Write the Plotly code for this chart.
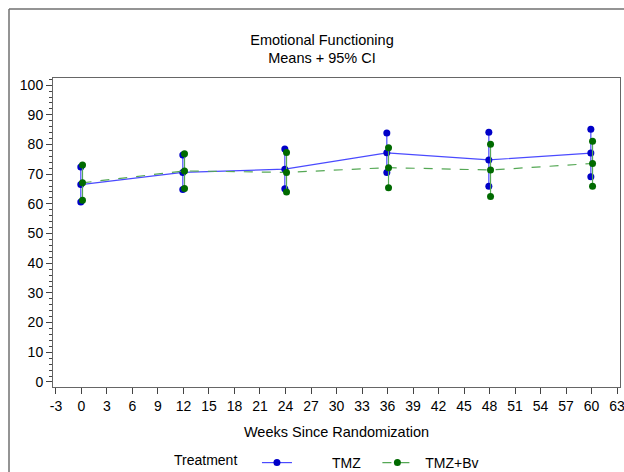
import plotly.graph_objects as go

weeks = [0, 12, 24, 36, 48, 60]
tmz_mean = [66.5, 70.6, 71.7, 77.2, 74.8, 77.1]
tmz_lower = [60.6, 64.8, 65.1, 70.6, 65.9, 69.1]
tmz_upper = [72.4, 76.5, 78.5, 83.9, 84.1, 85.1]
bv_mean = [67.1, 71.1, 70.6, 72.2, 71.4, 73.6]
bv_lower = [61.2, 65.2, 64.0, 65.4, 62.5, 65.9]
bv_upper = [73.1, 76.9, 77.3, 78.9, 80.1, 81.1]

x_ticks = list(range(-3, 64, 3))
x_ticklabels = [str(v) for v in x_ticks]
y_ticks = list(range(0, 101, 10))

FONT = "Liberation Sans, Arial, sans-serif"
BLUE_M = "#0000c8"
BLUE_L = "#4a4aff"
GREEN_M = "#006a00"
GREEN_L = "#55a855"
NBSP = "\u00a0"

W, H = 624, 472
ML, MR, MT, MB = 53, 4, 78, 85
PW, PH = W - ML - MR, H - MT - MB


def ci_xy(xs, lo, hi):
    xx, yy = [], []
    for x, a, b in zip(xs, lo, hi):
        xx += [x, x, None]
        yy += [a, b, None]
    return xx, yy


fig = go.Figure()
series = [
    (NBSP * 9 + "TMZ" + NBSP * 3, tmz_mean, tmz_lower, tmz_upper, -0.08, BLUE_M, BLUE_L, "solid"),
    (NBSP * 2 + "TMZ+Bv", bv_mean, bv_lower, bv_upper, 0.12, GREEN_M, GREEN_L, "dash"),
]
for label, m, lo, hi, off, mc, lc, dash in series:
    xs = [w + off for w in weeks]
    cx, cy = ci_xy(xs, lo, hi)
    fig.add_trace(go.Scatter(x=cx, y=cy, mode="lines+markers", showlegend=False,
                             line=dict(color=lc, width=1.2),
                             marker=dict(color=mc, size=7), hoverinfo="skip"))
    fig.add_trace(go.Scatter(x=xs, y=m, mode="lines+markers", name=label,
                             line=dict(color=lc, width=1.2, dash=dash),
                             marker=dict(color=mc, size=7)))

# outer frame of the original image (only its top and left edges are inside the crop)
fx0 = (9 - ML) / PW
fy1 = 1 + (MT - 9) / PH
frame_style = dict(color="#707070", width=1.5)

fig.update_layout(
    width=W, height=H,
    margin=dict(l=ML, r=MR, t=MT, b=MB, autoexpand=False),
    paper_bgcolor="white", plot_bgcolor="white",
    font=dict(family=FONT, size=14, color="black"),
    title=dict(text="Emotional Functioning<br>Means + 95% CI",
               x=322 / W, xanchor="center", xref="container",
               y=1 - 44.5 / H, yanchor="middle", yref="container",
               font=dict(family=FONT, size=14.5, color="black")),
    showlegend=True,
    legend=dict(orientation="h", xref="container", x=172 / W, xanchor="left",
                yref="container", y=1 - 463 / H, yanchor="middle",
                title=dict(text="Treatment" + NBSP * 3, side="left", font=dict(size=14)),
                font=dict(size=14), bgcolor="rgba(0,0,0,0)"),
    shapes=[
        dict(type="line", xref="paper", yref="paper", x0=fx0, x1=1.2, y0=fy1, y1=fy1,
             line=frame_style, layer="below"),
        dict(type="line", xref="paper", yref="paper", x0=fx0, x1=fx0, y0=fy1, y1=-0.5,
             line=frame_style, layer="below"),
    ],
)

fig.update_xaxes(range=[-3.35, 63.35], tickvals=x_ticks, ticktext=x_ticklabels,
                 ticks="outside", ticklen=6, ticklabeloverflow="allow", automargin=False,
                 tickcolor="#444", showline=True, linecolor="#666", linewidth=1,
                 mirror=True, showgrid=False, zeroline=False,
                 tickfont=dict(size=14),
                 title=dict(text="Weeks Since Randomization", font=dict(size=14.5), standoff=14))
fig.update_yaxes(range=[-1.7, 102.4], tickvals=y_ticks, ticks="outside", ticklen=6,
                 automargin=False,
                 tickcolor="#444", showline=True, linecolor="#666", linewidth=1,
                 mirror=True, showgrid=False, zeroline=False,
                 tickfont=dict(size=14),
                 minor=dict(dtick=2, ticks="outside", ticklen=3, tickcolor="#444"))

fig.write_html("out.html", config={"displayModeBar": False},
               post_script="document.body.style.margin='0';document.body.style.overflow='hidden';")
